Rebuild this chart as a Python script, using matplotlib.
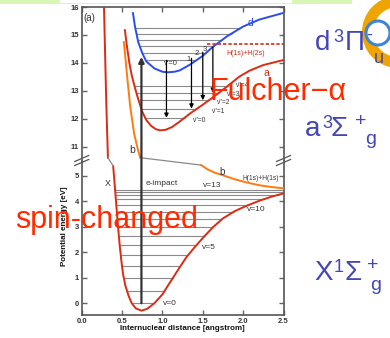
import matplotlib.pyplot as plt
from matplotlib.patches import ConnectionPatch, Wedge, Circle, Rectangle
import numpy as np

plt.rcParams['font.family'] = ['Liberation Sans', 'DejaVu Sans']

# potential curves: internuclear distance [angstrom] and energy [eV]
x_top_r = [0.276, 0.29, 0.305, 0.325]
x_top_e = [16.0, 14.3, 12.5, 10.6]
x_r = [0.39, 0.415, 0.435, 0.45, 0.47, 0.49, 0.51, 0.54, 0.58, 0.62, 0.67, 0.74,
       0.81, 0.90, 1.0, 1.1, 1.216, 1.3, 1.4, 1.5, 1.625, 1.75, 1.9, 2.04, 2.2, 2.35, 2.5]
x_e = [5.38, 4.4, 3.6, 3.0, 2.3, 1.7, 1.19, 0.7, 0.3, 0.0, -0.2, -0.29,
       -0.22, 0.0, 0.35, 0.85, 1.42, 1.82, 2.2, 2.56, 2.98, 3.33, 3.62, 3.82, 4.02, 4.18, 4.31]

b_top_r = [0.523, 0.56, 0.60, 0.65, 0.70, 0.725]
b_top_e = [14.74, 13.6, 12.45, 11.45, 10.85, 10.6]
b_r = [1.48, 1.56, 1.65, 1.75, 1.9, 2.04, 2.2, 2.35, 2.5]
b_e = [5.42, 5.25, 5.12, 5.02, 4.86, 4.74, 4.63, 4.56, 4.51]

a_r = [0.535, 0.56, 0.59, 0.62, 0.66, 0.70, 0.75, 0.80, 0.86, 0.92, 0.97, 1.04, 1.12,
       1.216, 1.35, 1.5, 1.62, 1.8, 1.95, 2.08, 2.25, 2.5]
a_e = [15.17, 14.6, 14.0, 13.55, 13.1, 12.7, 12.25, 11.95, 11.74, 11.62, 11.58, 11.6, 11.7,
       11.9, 12.2, 12.5, 12.75, 13.15, 13.5, 13.72, 13.92, 14.1]

d_r = [0.635, 0.66, 0.70, 0.75, 0.80, 0.90, 1.0, 1.065, 1.15, 1.216, 1.35, 1.5,
       1.62, 1.8, 2.0, 2.2, 2.49]
d_e = [15.78, 15.3, 14.75, 14.35, 14.05, 13.8, 13.68, 13.66, 13.68, 13.73, 13.95, 14.25,
       14.56, 14.95, 15.3, 15.55, 15.78]

# vibrational levels [eV]
x_levels = [0.0, 0.50, 0.99, 1.45, 1.88, 2.27, 2.65, 2.99, 3.30, 3.59, 3.85, 4.08, 4.26, 4.37, 4.45]
a_levels = [12.03, 12.36, 12.66, 12.93, 13.18]
d_levels = [14.09, 14.36, 14.60, 14.81, 15.05, 15.26]

# Fulcher transitions (d -> a)
arrow_r = [1.05, 1.36, 1.50, 1.625]
arrow_from = [14.09, 14.16, 14.38, 14.56]
arrow_to = [12.03, 12.36, 12.66, 12.93]

h2s_level = 14.67
impact_r = 0.74
impact_top = 14.21

red = '#dd2a12'
blue = '#2a4cf0'
orange = '#ff7a10'
grey = '#8a8a8a'
dark = '#333333'


def level_span(r, e, level, rmax=2.5):
    r = np.asarray(r)
    e = np.asarray(e)
    i = np.argmin(e)
    left = np.interp(level, e[:i + 1][::-1], r[:i + 1][::-1])
    if level >= e[i:].max():
        right = rmax
    else:
        right = np.interp(level, e[i:], r[i:])
    return left, right


W, H = 390, 338
fig = plt.figure(figsize=(3.9, 3.38), dpi=100)


def box(l, t, r, b):
    return [l / W, 1 - b / H, (r - l) / W, (b - t) / H]


ax_top = fig.add_axes(box(81.7, 7, 283.5, 160.5))
ax_bot = fig.add_axes(box(81.7, 160.5, 283.5, 315))

for ax in (ax_top, ax_bot):
    ax.set_xlim(0, 2.5)
    for s in ax.spines.values():
        s.set_color('#555555')
        s.set_linewidth(1.2)
    ax.tick_params(direction='in', length=3.5, width=1.0, color='#666666',
                   labelsize=5.5, labelcolor=dark, right=True, pad=2)

ax_top.set_ylim(10.5, 16)
ax_top.set_yticks([11, 12, 13, 14, 15, 16])
ax_top.spines['bottom'].set_visible(False)
ax_top.tick_params(bottom=False, labelbottom=False, top=True)
ax_top.set_xticks([0, 0.5, 1.0, 1.5, 2.0, 2.5])

ax_bot.set_ylim(-0.46, 5.6)
ax_bot.set_yticks([0, 1, 2, 3, 4, 5])
ax_bot.spines['top'].set_visible(False)
ax_bot.set_xticks([0, 0.5, 1.0, 1.5, 2.0, 2.5])
ax_bot.set_xticklabels(['0.0', '0.5', '1.0', '1.5', '2.0', '2.5'], fontweight='bold')
for ax in (ax_top, ax_bot):
    for lab in ax.get_yticklabels():
        lab.set_fontweight('bold')

# levels
for lv in x_levels:
    l, r = level_span(x_r, x_e, lv)
    ax_bot.hlines(lv, l, r, color=grey, lw=0.8, zorder=1)
for lv in a_levels:
    l, r = level_span(a_r, a_e, lv)
    ax_top.hlines(lv, l, r, color=grey, lw=0.8, zorder=1)
for lv in d_levels:
    l, r = level_span(d_r, d_e, lv)
    ax_top.hlines(lv, l, r, color=grey, lw=0.8, zorder=1)

# curves
ax_top.plot(x_top_r, x_top_e, color=red, lw=1.4, zorder=3)
ax_bot.plot(x_r, x_e, color=red, lw=1.4, zorder=3)
ax_top.plot(a_r, a_e, color=red, lw=1.4, zorder=3)
ax_top.plot(d_r, d_e, color=blue, lw=1.4, zorder=3)
ax_top.plot(b_top_r, b_top_e, color=orange, lw=1.4, zorder=3)
ax_bot.plot(b_r, b_e, color=orange, lw=1.4, zorder=3)
ax_top.hlines(h2s_level, 1.55, 2.5, color=red, lw=1.2, linestyles=(0, (2, 1.2)), zorder=3)

for r, e0, e1 in zip(arrow_r, arrow_from, arrow_to):
    ax_top.annotate('', xy=(r, e1), xytext=(r, e0),
                    arrowprops=dict(arrowstyle='-|>', color='black', lw=0.9,
                                    mutation_scale=6, shrinkA=0, shrinkB=0), zorder=4)

# lines crossing the axis break
con = ConnectionPatch(xyA=(x_top_r[-1], x_top_e[-1]), coordsA=ax_top.transData,
                      xyB=(x_r[0], x_e[0]), coordsB=ax_bot.transData, color=grey, lw=0.9)
fig.add_artist(con)
con = ConnectionPatch(xyA=(b_top_r[-1], b_top_e[-1]), coordsA=ax_top.transData,
                      xyB=(b_r[0], b_e[0]), coordsB=ax_bot.transData, color=grey, lw=0.9)
fig.add_artist(con)
con = ConnectionPatch(xyA=(impact_r, x_levels[0]), coordsA=ax_bot.transData,
                      xyB=(impact_r, impact_top), coordsB=ax_top.transData,
                      color=dark, lw=1.6, arrowstyle='-|>', mutation_scale=8,
                      shrinkA=0, shrinkB=0)
fig.add_artist(con)

# labels in the chart
fs = 6
ax_top.text(0.09, 15.6, '(a)', fontsize=7, color=dark, ha='center', va='center')
ax_top.text(2.09, 15.43, 'd', fontsize=7.5, color=blue, ha='center', va='center')
ax_top.text(2.03, 14.33, 'H(1s)+H(2s)', fontsize=5, color=red, ha='center', va='center')
ax_top.text(2.29, 13.63, 'a', fontsize=7.5, color=red, ha='center', va='center')
ax_top.text(0.62, 10.86, 'b', fontsize=7.5, color=dark, ha='center', va='center')
ax_top.text(1.11, 13.99, "v'=0", fontsize=5.5, color=dark, ha='center', va='center')
for r, e, t in [(1.33, 14.12, '1'), (1.42, 14.33, '2'), (1.53, 14.48, '3')]:
    ax_top.text(r, e, t, fontsize=5.5, color=dark, ha='center', va='center')
for r, e, t in [(1.46, 11.92, "v''=0"), (1.70, 12.26, "v''=1"), (1.76, 12.58, "v''=2"),
                (1.88, 12.88, "v''=3"), (1.99, 13.18, "v''=4")]:
    ax_top.text(r, e, t, fontsize=4.8, color=dark, ha='center', va='center')

ax_bot.text(0.32, 4.71, 'X', fontsize=6.5, color=dark, ha='center', va='center')
ax_bot.text(0.99, 4.71, 'e-impact', fontsize=fs, color=dark, ha='center', va='center')
ax_bot.text(1.74, 5.16, 'b', fontsize=7, color=dark, ha='center', va='center')
ax_bot.text(2.22, 4.9, 'H(1s)+H(1s)', fontsize=4.8, color=dark, ha='center', va='center')
ax_bot.text(1.62, 4.6, 'v=13', fontsize=fs, color=dark, ha='center', va='center')
ax_bot.text(2.16, 3.66, 'v=10', fontsize=fs, color=dark, ha='center', va='center')
ax_bot.text(1.575, 2.2, 'v=5', fontsize=fs, color=dark, ha='center', va='center')
ax_bot.text(1.09, 0.0, 'v=0', fontsize=fs, color=dark, ha='center', va='center')

fig.text(182 / W, 1 - 329 / H, 'Internuclear distance [angstrom]', fontsize=5.8,
         fontweight='bold', color='#111111', ha='center', va='center')
fig.text(65 / W, 1 - 226 / H, 'Potential energy [eV]', fontsize=5.8, fontweight='bold',
         color='#111111', ha='center', va='center', rotation=90)

# slide overlay (pixel coordinates)
ov = fig.add_axes([0, 0, 1, 1], zorder=5)
ov.set_xlim(0, W)
ov.set_ylim(H, 0)
ov.set_axis_off()

ov.add_patch(Rectangle((0, 0), 352, 4, color='#d8f7b4', lw=0))
ov.add_patch(Rectangle((60, 0), 232, 3, color='white', lw=0))

# axis break marks
for x0 in (81.7, 283.5):
    for dy in (-2, 2):
        ov.plot([x0 - 7, x0 + 7], [160.5 + dy + 3, 160.5 + dy - 3], color='#555555', lw=0.9)

ov.text(210, 100, 'Fulcher\u2212\u03b1', fontsize=22, color='#ff2a00', ha='left', va='baseline')
ov.text(15, 228, 'spin-changed', fontsize=22, color='#ff2a00', ha='left', va='baseline')

violet = '#4347b5'
ov.text(315, 50, 'd', fontsize=20, color=violet, ha='left', va='baseline')
ov.text(333, 42, '3', fontsize=13, color=violet, ha='left', va='baseline')
ov.text(345, 50, '\u03a0', fontsize=20, color=violet, ha='left', va='baseline')
ov.text(366, 40, '-', fontsize=13, color=violet, ha='left', va='baseline')
ov.text(374, 63, 'u', fontsize=13, color=violet, ha='left', va='baseline')

ov.text(305, 136, 'a', fontsize=20, color=violet, ha='left', va='baseline')
ov.text(322, 128, '3', fontsize=13, color=violet, ha='left', va='baseline')
ov.text(331, 136, '\u03a3', fontsize=20, color=violet, ha='left', va='baseline')
ov.text(355, 126, '+', fontsize=14, color=violet, ha='left', va='baseline')
ov.text(365, 144, 'g', fontsize=14, color=violet, ha='left', va='baseline')

ov.text(314, 280, 'X', fontsize=20, color=violet, ha='left', va='baseline')
ov.text(334, 272, '1', fontsize=13, color=violet, ha='left', va='baseline')
ov.text(345, 280, '\u03a3', fontsize=20, color=violet, ha='left', va='baseline')
ov.text(367, 270, '+', fontsize=14, color=violet, ha='left', va='baseline')
ov.text(370, 290, 'g', fontsize=14, color=violet, ha='left', va='baseline')

# logo
ov.add_patch(Wedge((398, 32), 36, 95, 265, width=11, color='#f0a400', lw=0))
ov.add_patch(Circle((378, 33), 12, facecolor='white', edgecolor='#3d85d8', lw=2.2))

fig.savefig('out.png', dpi=100)
